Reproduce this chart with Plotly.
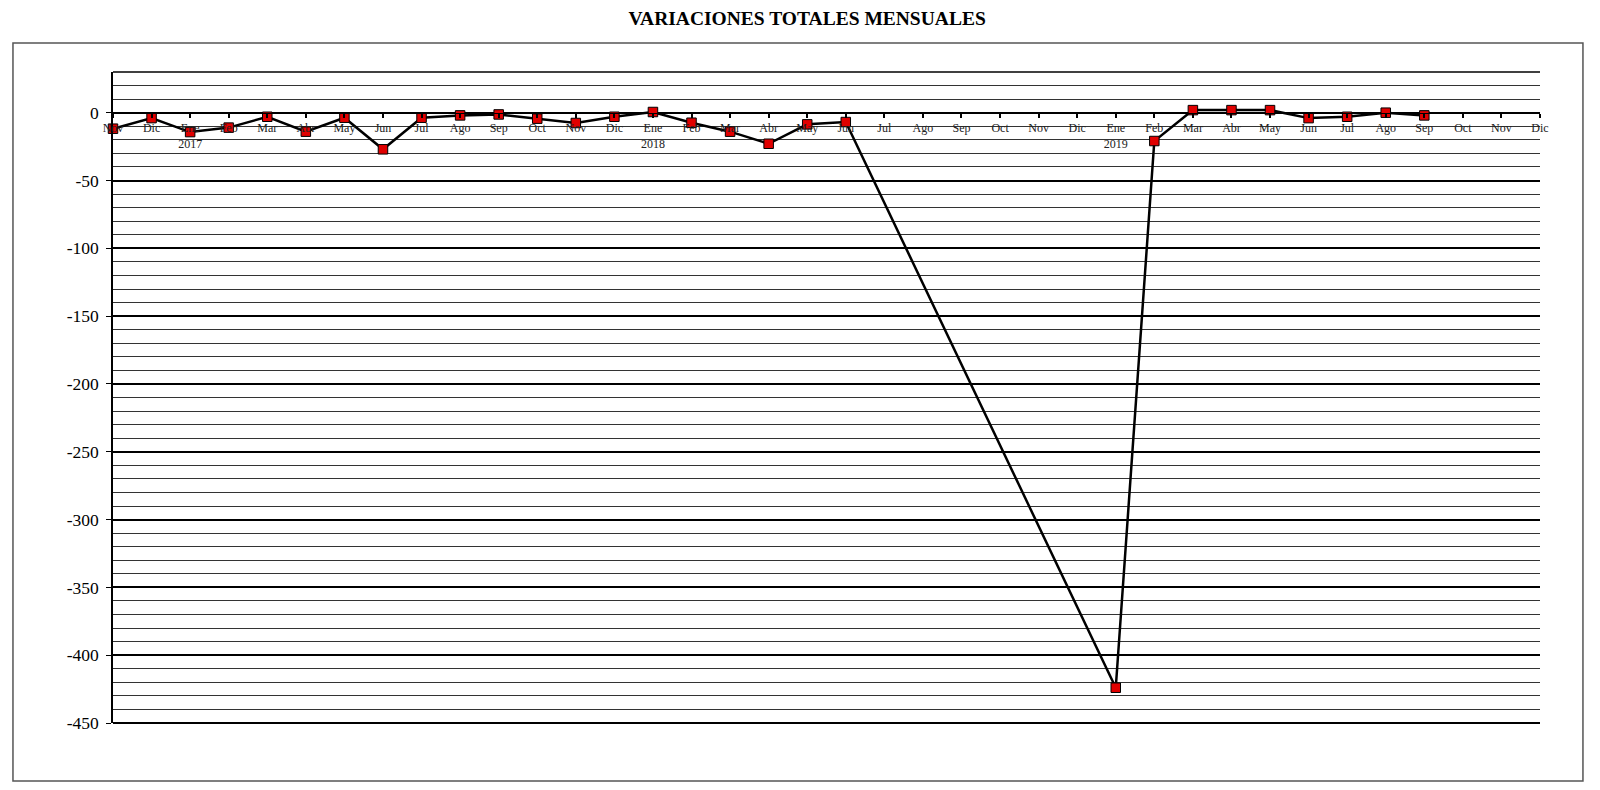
import plotly.graph_objects as go

# Categories: Nov 2016 .. Dic 2019
months = ["Nov", "Dic",
          "Ene", "Feb", "Mar", "Abr", "May", "Jun", "Jul", "Ago", "Sep", "Oct", "Nov", "Dic",
          "Ene", "Feb", "Mar", "Abr", "May", "Jun", "Jul", "Ago", "Sep", "Oct", "Nov", "Dic",
          "Ene", "Feb", "Mar", "Abr", "May", "Jun", "Jul", "Ago", "Sep", "Oct", "Nov", "Dic"]
years = [2016, 2016] + [2017] * 12 + [2018] * 12 + [2019] * 12

values = [-11.8, -4.0,
          -14.3, -11.0, -3.0, -14.0, -3.7, -27.0, -3.7, -2.0, -1.3, -4.4, -7.6, -3.0,
          0.5, -7.4, -14.0, -22.9, -8.6, -6.9, None, None, None, None, None, None,
          -424.0, -20.9, 1.9, 1.9, 1.9, -4.0, -3.0, 0.0, -2.0, None, None, None]

y_tick_vals = [0, -50, -100, -150, -200, -250, -300, -350, -400, -450]
y_tick_text = ["0", "-50", "-100", "-150", "-200", "-250", "-300", "-350", "-400", "-450"]

categories = [f"{m} {y}" for m, y in zip(months, years)]
tick_text = [f"{m}<br>{y}" if m == "Ene" else m for m, y in zip(months, years)]

title = "VARIACIONES TOTALES MENSUALES"
serif = "Liberation Serif, Times New Roman, serif"

y_min, y_max = -450, 30

fig = go.Figure()
fig.add_trace(go.Scatter(
    x=categories, y=values, mode="lines+markers",
    connectgaps=True, cliponaxis=False,
    line=dict(color="black", width=2.5),
    marker=dict(symbol="square", size=9.5, color="#e00000",
                line=dict(color="black", width=1)),
))

# page body adds an 8px margin; figure sized to compensate
fig.update_layout(
    width=1584, height=774,
    paper_bgcolor="white", plot_bgcolor="white",
    margin=dict(l=105, r=52, t=64, b=59),
    showlegend=False,
    title=dict(text=f"<b>{title}</b>", x=0.5045, xanchor="center", y=0.987, yanchor="middle",
               font=dict(family=serif, size=19.5, color="black")),
    font=dict(family=serif, color="black"),
)

fig.update_xaxes(
    type="category",
    categoryorder="array", categoryarray=categories,
    range=[0, len(categories) - 1],
    tickmode="array", tickvals=categories, ticktext=tick_text,
    anchor="free", position=(0 - y_min) / (y_max - y_min),
    showline=True, linecolor="black", linewidth=1,
    ticks="outside", ticklen=4, tickcolor="black", tickwidth=1.5,
    tickfont=dict(family=serif, size=12, color="#222"),
    tickangle=0,
    showgrid=False, zeroline=False,
)

fig.update_yaxes(
    range=[y_min, y_max],
    tickmode="array", tickvals=y_tick_vals, ticktext=y_tick_text,
    ticks="outside", ticklen=5, tickcolor="black",
    ticklabelstandoff=4,
    showline=True, linecolor="black", linewidth=1.5,
    showgrid=True, gridcolor="black", gridwidth=1.6,
    minor=dict(dtick=10, tick0=0, showgrid=True, gridcolor="#333", gridwidth=1.1),
    zeroline=False,
    tickfont=dict(family=serif, size=17.5, color="black"),
)

# top and bottom plot border lines, outer chart frame
fig.add_shape(type="line", xref="paper", yref="paper", x0=0, x1=1, y0=1, y1=1,
              line=dict(color="black", width=1.6))
fig.add_shape(type="line", xref="paper", yref="paper", x0=0, x1=1, y0=0, y1=0,
              line=dict(color="black", width=2))
fig.add_shape(type="rect", xref="paper", yref="paper",
              x0=-0.0701, x1=1.0301, y0=-0.0891, y1=1.0445,
              line=dict(color="#555", width=1.5), layer="below")

fig.write_html("out.html")
